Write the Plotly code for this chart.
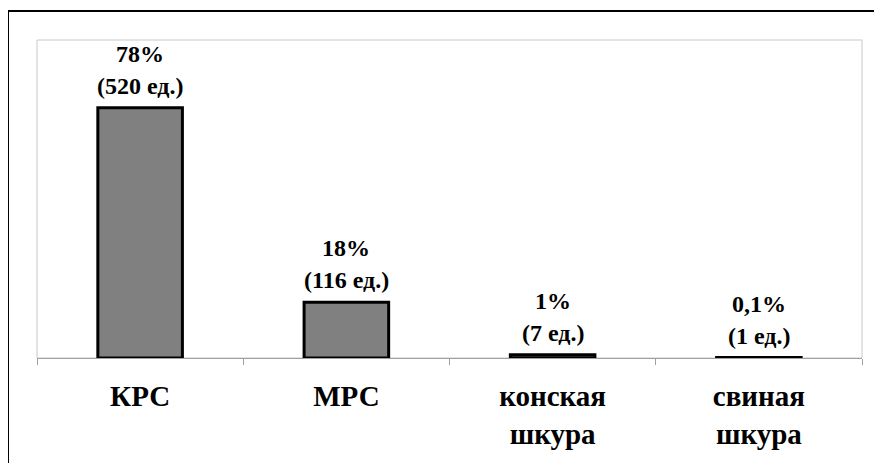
import plotly.graph_objects as go

categories = ["КРС", "МРС", "конская<br>шкура", "свиная<br>шкура"]
units = [520, 116, 7, 1]
percent_labels = ["78%", "18%", "1%", "0,1%"]
unit_labels = ["(520 ед.)", "(116 ед.)", "(7 ед.)", "(1 ед.)"]

# page offset (body margin) is 8px
OFF = 8
W, H = 882, 463
L, T = 37 - OFF, 40 - OFF
plot_right, plot_bottom = 862 - OFF, 358 - OFF
R, B = W - plot_right, H - plot_bottom
pw, ph = plot_right - L, plot_bottom - T

def px_x(x):
    return (x - OFF - L) / pw

def px_y(y):
    return (plot_bottom - (y - OFF)) / ph

font_family = "Liberation Serif"

fig = go.Figure()
fig.add_trace(go.Bar(
    x=categories, y=units,
    marker=dict(color="#808080", line=dict(color="#000000", width=3)),
    width=0.41,
    hoverinfo="skip",
))

annotations = []
for c, v, p, u in zip(categories, units, percent_labels, unit_labels):
    annotations.append(dict(x=c, y=v, xref="x", yref="y", text="<b>%s</b>" % u,
                            showarrow=False, yanchor="middle", yshift=22,
                            font=dict(family=font_family, size=24)))
    annotations.append(dict(x=c, y=v, xref="x", yref="y", text="<b>%s</b>" % p,
                            showarrow=False, yanchor="middle", yshift=54,
                            font=dict(family=font_family, size=24)))

shapes = [
    dict(type="rect", xref="paper", yref="paper", x0=0, x1=1, y0=0, y1=1,
         line=dict(color="#c8c8c8", width=1), layer="below"),
    dict(type="rect", xref="paper", yref="paper",
         x0=px_x(8), x1=px_x(879), y0=px_y(490), y1=px_y(11),
         line=dict(color="#000000", width=2)),
]

fig.update_layout(
    template="none",
    width=W, height=H,
    margin=dict(l=L, r=R, t=T, b=B),
    font=dict(family=font_family, color="black"),
    paper_bgcolor="white", plot_bgcolor="white",
    showlegend=False,
    annotations=annotations,
    shapes=shapes,
    xaxis=dict(
        showline=True, linecolor="#a0a0a0", linewidth=1,
        ticks="outside", tickson="boundaries", ticklen=6, tickcolor="#a0a0a0",
        tickfont=dict(family=font_family, size=29),
        tickprefix="<b>", ticksuffix="</b>",
        ticklabelstandoff=12,
        showgrid=False, zeroline=False,
    ),
    yaxis=dict(range=[0, 661], visible=False, showgrid=False, zeroline=False),
)

fig.write_html("out.html")
